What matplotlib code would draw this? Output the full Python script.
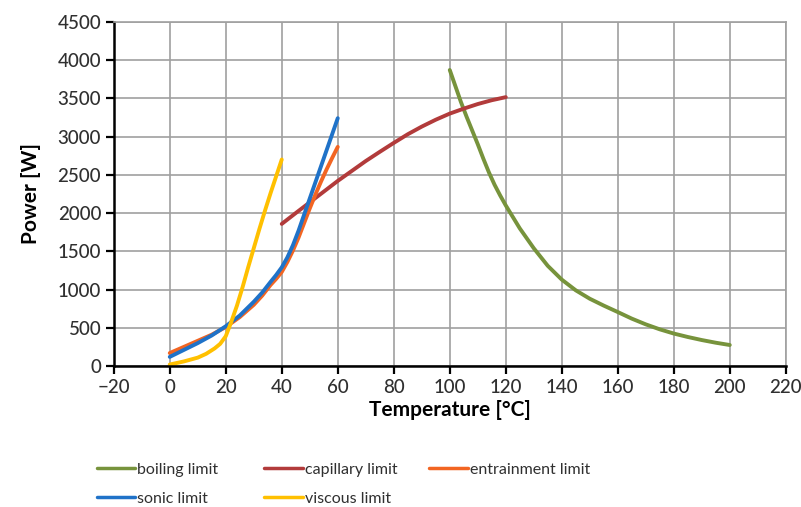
import matplotlib
matplotlib.use("Agg")
import matplotlib.pyplot as plt

plt.rcParams['font.family'] = ['Lato', 'DejaVu Sans']

boil_x = [100, 102, 104, 106, 108, 110, 112, 114, 116, 118, 120, 125, 130, 135, 140,
          145, 150, 155, 160, 165, 170, 175, 180, 185, 190, 195, 200]
boil_y = [3870, 3660, 3450, 3260, 3080, 2900, 2710, 2530, 2370, 2230, 2100, 1800, 1540, 1310, 1130,
          990, 880, 790, 706, 620, 545, 480, 425, 380, 340, 305, 275]

cap_x = [40, 45, 50, 55, 60, 65, 70, 75, 80, 85, 90, 95, 100, 105, 110, 115, 120]
cap_y = [1858, 2000, 2140, 2280, 2420, 2550, 2680, 2800, 2917, 3030, 3130, 3220, 3300, 3365, 3425, 3475, 3515]

ent_x = [0, 5, 10, 15, 20, 25, 30, 33, 36, 38, 40, 42, 44, 46, 48, 50, 52, 54, 56, 58, 60]
ent_y = [170, 250, 330, 410, 510, 640, 800, 920, 1060, 1140, 1230, 1360, 1510, 1680, 1870, 2060, 2240, 2410, 2570, 2720, 2865]

son_x = [0, 5, 10, 15, 20, 25, 30, 33, 36, 38, 40, 42, 44, 46, 48, 50, 52, 54, 56, 58, 60]
son_y = [120, 210, 300, 400, 520, 660, 840, 960, 1100, 1190, 1290, 1420, 1580, 1770, 1980, 2190, 2400, 2610, 2820, 3030, 3240]

vis_x = [0, 5, 10, 13, 16, 18, 20, 22, 24, 26, 28, 30, 32, 34, 36, 38, 40]
vis_y = [20, 60, 110, 160, 230, 290, 390, 580, 790, 1030, 1290, 1540, 1790, 2030, 2260, 2480, 2700]

fig = plt.figure(figsize=(8.01, 5.07), dpi=100)
ax = fig.add_axes([0.142, 0.278, 0.839, 0.679])

lw = 2.8
kw = dict(lw=lw, solid_capstyle='round', solid_joinstyle='round')
series = [
    (boil_x, boil_y, '#77933C', 'boiling limit'),
    (cap_x, cap_y, '#B23B3B', 'capillary limit'),
    (ent_x, ent_y, '#F26522', 'entrainment limit'),
    (son_x, son_y, '#1F72C8', 'sonic limit'),
    (vis_x, vis_y, '#FFC000', 'viscous limit'),
]
handles = {}
for x, y, c, lab in series:
    h, = ax.plot(x, y, color=c, label=lab, **kw)
    handles[lab] = h

ax.set_xlim(-20, 220)
ax.set_ylim(0, 4500)
ax.set_xticks(range(-20, 221, 20))
ax.set_xticklabels(['\u221220' if v == -20 else str(v) for v in range(-20, 221, 20)])
ax.set_yticks(range(0, 4501, 500))
ax.grid(True, color='#A0A0A0', lw=1.2)
ax.set_axisbelow(True)
for s in ['top', 'right']:
    ax.spines[s].set_color('#A0A0A0')
    ax.spines[s].set_linewidth(1.2)
for s in ['left', 'bottom']:
    ax.spines[s].set_color('black')
    ax.spines[s].set_linewidth(1.8)
ax.tick_params(direction='out', length=6, width=1.6, labelsize=13.5, colors='black', pad=3)
for t in ax.get_xticklabels() + ax.get_yticklabels():
    t.set_color('#303030')
    t.set_fontweight('medium')

ax.set_xlabel('Temperature [°C]', fontsize=15, fontweight='bold', labelpad=3)
ax.set_ylabel('Power [W]', fontsize=15, fontweight='bold', labelpad=12)

cols = [
    (['boiling limit', 'sonic limit'], 0.121),
    (['capillary limit', 'viscous limit'], 0.330),
    (['entrainment limit'], 0.536),
]
for labs, x0 in cols:
    leg = fig.legend([handles[l] for l in labs], labs, loc='upper left',
                     bbox_to_anchor=(x0, 0.087), frameon=False, fontsize=11.5,
                     handlelength=2.4, handletextpad=0.12, labelspacing=0.9,
                     borderaxespad=0, borderpad=0)
    for line in leg.get_lines():
        line.set_linewidth(2.5)
    for t in leg.get_texts():
        t.set_color('#303030')

fig.savefig('out.png', dpi=100)
